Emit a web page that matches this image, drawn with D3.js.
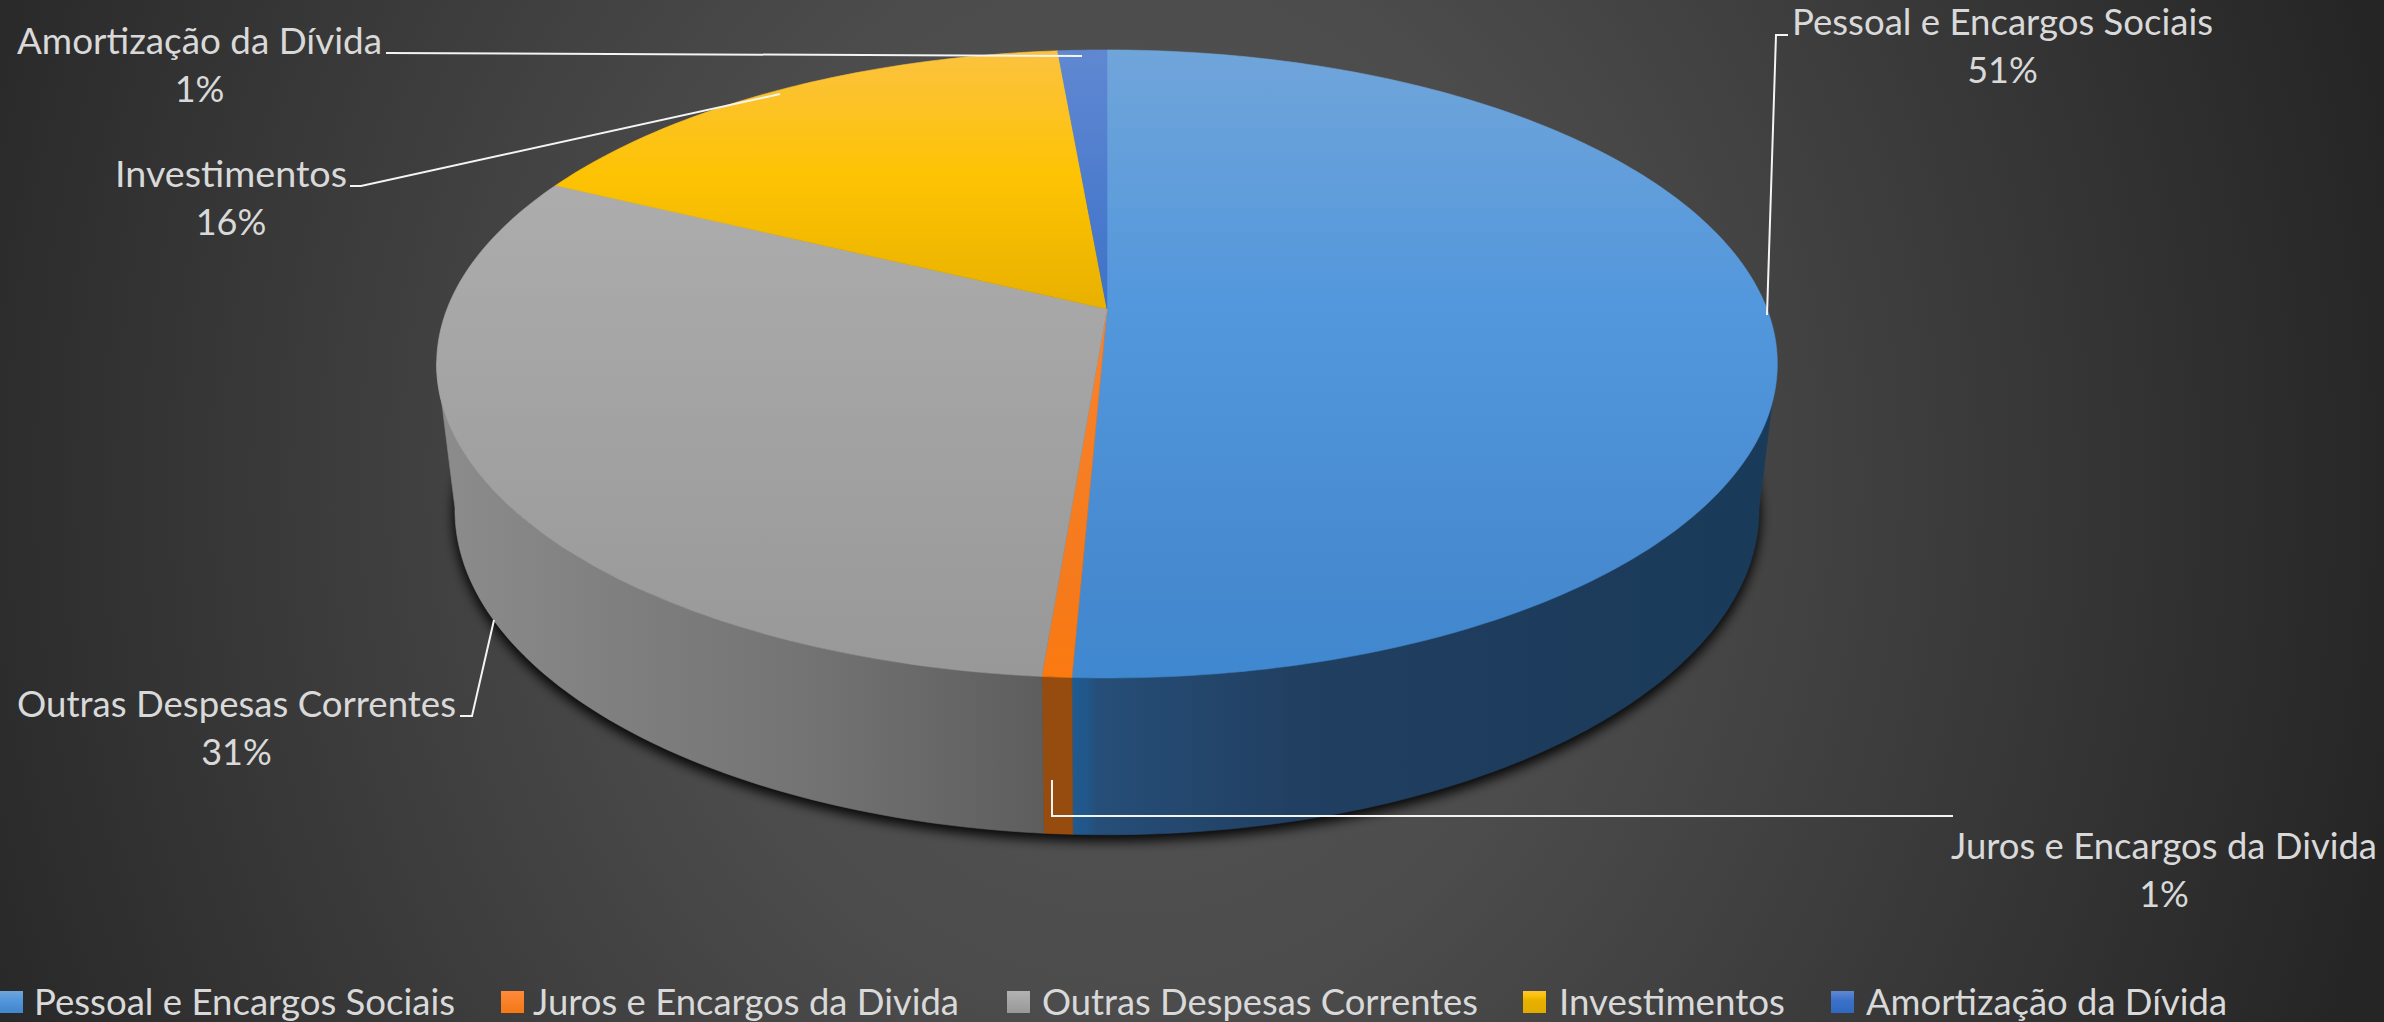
<!DOCTYPE html>
<meta charset="utf-8">
<style>
  html, body { margin: 0; padding: 0; background: #333; overflow: hidden; }
  text { font-family: Lato, "Open Sans", sans-serif; fill: #d9d9d9; }
</style>

<!-- Load d3.js -->
<script src="https://d3js.org/d3.v7.min.js"></script>

<div id="my_dataviz"></div>

<script>

// data (share of the total, %)
var categories = ["Pessoal e Encargos Sociais", "Juros e Encargos da Divida", "Outras Despesas Correntes", "Investimentos", "Amortização da Dívida"];
var shares = [50.7, 0.6, 30.9, 16.4, 1.4];

var width = 2384;
var height = 1022;
var fontSize = 36;

// perspective: the disc is an ellipse but its centre sits above the middle of it
var tilt = -0.175;
var cx = 1107;
var topDisc = {k: 660, a: 250.3, b: 309};
var bottomDisc = {k: 642, a: 235.7, b: 453};

function project(disc, angle) {
  var s = Math.sin(angle), t = -Math.cos(angle);
  var w = 1 + tilt * t;
  return [cx + disc.k * s / w, (disc.a * t + disc.b) / w];
}

// front wall is only visible between the two widest points of the top disc
var wallFrom = 99.7 * Math.PI / 180;
var wallTo = 260.3 * Math.PI / 180;

var topStops = [
  [["0", "#70a5da"], ["0.4", "#5397dc"], ["0.85", "#4689cf"], ["1", "#3f88d0"]],
  [["0", "#ff8a3a"], ["0.85", "#f57a1c"], ["1", "#fb7a10"]],
  [["0", "#b2b2b2"], ["1", "#989898"]],
  [["0", "#fcc240"], ["0.2", "#fdc303"], ["0.42", "#e8b000"], ["1", "#e0aa00"]],
  [["0", "#6088d2"], ["0.45", "#3a70c8"], ["1", "#3068c0"]]
];
var wallStops = {
  0: [[1073, "#1f5a90"], [1088, "#215688"], [1098, "#264e78"], [1300, "#213f60"], [1764, "#1a3a5a"]],
  1: [[1040, "#974c0f"], [1073, "#974c0f"]],
  2: [[440, "#8c8c8c"], [620, "#7f7f7f"], [800, "#747474"], [1040, "#5e5e5e"]]
};

// label anchors: text left/right, baselines, leader points
var labelLayout = [
  {x0: 1792, x1: 2213, y: 35, yp: 83, line: [[1788, 35], [1776, 35], [1767, 315]]},
  {x0: 1951, x1: 2377, y: 859, yp: 907, line: [[1052, 780], [1052, 816], [1953, 816]]},
  {x0: 17, x1: 456, y: 717, yp: 765, line: [[460, 716], [472, 716], [494, 620]]},
  {x0: 115, x1: 347, y: 187, yp: 235, line: [[350, 186], [361, 186], [780, 94]]},
  {x0: 17, x1: 382, y: 54, yp: 102, line: [[386, 53], [1082, 56]]}
];
var legendLayout = [
  {box: 0, x0: 34, x1: 455},
  {box: 501, x0: 533, x1: 959},
  {box: 1007, x0: 1042, x1: 1478},
  {box: 1523, x0: 1559, x1: 1785},
  {box: 1831, x0: 1866, x1: 2227}
];

var svg = d3.select("#my_dataviz")
  .append("svg")
  .attr("width", width)
  .attr("height", height)
  .style("display", "block");

var defs = svg.append("defs");

function addGradient(id, x1, y1, x2, y2, stops) {
  var g = defs.append("linearGradient")
    .attr("id", id)
    .attr("gradientUnits", "userSpaceOnUse")
    .attr("x1", x1).attr("y1", y1).attr("x2", x2).attr("y2", y2);
  stops.forEach(function(st) {
    g.append("stop").attr("offset", st[0]).attr("stop-color", st[1]);
  });
}

// background
var bg = defs.append("radialGradient")
  .attr("id", "bg")
  .attr("gradientUnits", "userSpaceOnUse")
  .attr("cx", 0).attr("cy", 0).attr("r", 1)
  .attr("gradientTransform", "translate(1130,480) scale(1300,1500)");
bg.append("stop").attr("offset", "0").attr("stop-color", "#565656");
bg.append("stop").attr("offset", "0.35").attr("stop-color", "#4c4c4c");
bg.append("stop").attr("offset", "1").attr("stop-color", "#252525");

svg.append("rect").attr("width", width).attr("height", height).attr("fill", "url(#bg)");

var blur = defs.append("filter")
  .attr("id", "soft")
  .attr("x", "-5%").attr("y", "-5%").attr("width", "110%").attr("height", "110%");
blur.append("feGaussianBlur").attr("stdDeviation", 6);

var pie = d3.pie().sort(null).value(function(d) { return d; });
var arcs = pie(shares);

var line = d3.line();

function rim(disc, a0, a1) {
  var n = Math.max(2, Math.ceil((a1 - a0) * 60));
  return d3.range(n + 1).map(function(i) {
    return project(disc, a0 + (a1 - a0) * i / n);
  });
}

// shadow under the pie
svg.append("path")
  .attr("d", line(rim(bottomDisc, 0, 2 * Math.PI)) + "Z")
  .attr("transform", "translate(0,5)")
  .attr("fill", "#000")
  .attr("fill-opacity", 0.9)
  .attr("stroke", "#000")
  .attr("stroke-opacity", 0.9)
  .attr("stroke-width", 3)
  .attr("filter", "url(#soft)");

// walls
arcs.forEach(function(d, i) {
  var a0 = Math.max(d.startAngle, wallFrom);
  var a1 = Math.min(d.endAngle, wallTo);
  if (a1 <= a0) return;
  var stops = wallStops[i];
  var lo = stops[0][0], hi = stops[stops.length - 1][0];
  addGradient("wall" + i, lo, 0, hi, 0, stops.map(function(st) {
    return [(st[0] - lo) / (hi - lo), st[1]];
  }));
  var pts = rim(topDisc, a0, a1).concat(rim(bottomDisc, a0, a1).reverse());
  svg.append("path")
    .attr("d", line(pts) + "Z")
    .attr("fill", "url(#wall" + i + ")")
    .attr("stroke", "url(#wall" + i + ")")
    .attr("stroke-width", 0.6);
});

// top faces
arcs.forEach(function(d, i) {
  addGradient("face" + i, 0, 50, 0, 678, topStops[i]);
  var pts = [[cx, topDisc.b]].concat(rim(topDisc, d.startAngle, d.endAngle));
  svg.append("path")
    .attr("d", line(pts) + "Z")
    .attr("fill", "url(#face" + i + ")")
    .attr("stroke", "url(#face" + i + ")")
    .attr("stroke-width", 0.6);
});

// leader lines and labels
function fitted(sel, x0, x1) {
  return sel.attr("x", x0)
    .attr("textLength", x1 - x0)
    .attr("lengthAdjust", "spacingAndGlyphs");
}

categories.forEach(function(name, i) {
  var l = labelLayout[i];
  svg.append("path")
    .attr("d", line(l.line))
    .attr("fill", "none")
    .attr("stroke", "#f4f4f4")
    .attr("stroke-width", 2);
  fitted(svg.append("text").attr("y", l.y).attr("font-size", fontSize).text(name), l.x0, l.x1);
  svg.append("text")
    .attr("x", (l.x0 + l.x1) / 2)
    .attr("y", l.yp)
    .attr("font-size", fontSize)
    .attr("text-anchor", "middle")
    .text(Math.round(shares[i]) + "%");
});

// legend
categories.forEach(function(name, i) {
  var l = legendLayout[i];
  addGradient("key" + i, 0, 991, 0, 1013, topStops[i]);
  svg.append("rect")
    .attr("x", l.box).attr("y", 991)
    .attr("width", 23).attr("height", 22)
    .attr("fill", "url(#key" + i + ")");
  fitted(svg.append("text").attr("y", 1015).attr("font-size", fontSize).text(name), l.x0, l.x1);
});

</script>
